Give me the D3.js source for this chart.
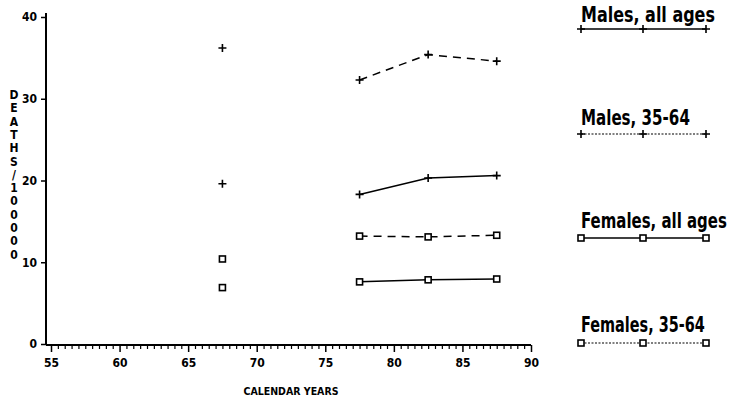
<!DOCTYPE html>
<html><head><meta charset="utf-8">
<script src="https://cdn.jsdelivr.net/npm/d3@7"></script>
<style>
html,body{margin:0;padding:0;background:#fff;}
svg{display:block;}
text{font-family:"DejaVu Sans Condensed","Liberation Sans Narrow","DejaVu Sans",sans-serif;font-weight:bold;fill:#000;}
</style></head>
<body>
<svg id="chart" width="736" height="401"></svg>
<script>
// ---- data ----
const years = [67.5, 72.5, 77.5, 82.5, 87.5];
const malesAll = [19.6, null, 18.3, 20.3, 20.6];
const males3564 = [36.2, null, 32.3, 35.4, 34.6];
const femalesAll = [6.9, null, 7.6, 7.85, 7.95];
const females3564 = [10.4, null, 13.2, 13.1, 13.3];
const seriesNames = ["Males, all ages", "Males, 35-64", "Females, all ages", "Females, 35-64"];
const xTicks = [55, 60, 65, 70, 75, 80, 85, 90];
const yTicks = [0, 10, 20, 30, 40];
const xTitle = "CALENDAR YEARS";
const yTitle = "DEATHS/100000";

const series = [
  {name: seriesNames[0], values: malesAll, marker: "plus", chartDash: null, legendDash: null},
  {name: seriesNames[1], values: males3564, marker: "plus", chartDash: "8,6", legendDash: "2,1.5"},
  {name: seriesNames[2], values: femalesAll, marker: "square", chartDash: null, legendDash: null},
  {name: seriesNames[3], values: females3564, marker: "square", chartDash: "8,6", legendDash: "2,1.5"}
];

const svg = d3.select("#chart");
const x = d3.scaleLinear().domain([55, 90]).range([51, 531]);
const y = d3.scaleLinear().domain([0, 40]).range([344, 17]);
const axisX0 = 46;

// axis lines
svg.append("line").attr("x1", axisX0).attr("x2", axisX0).attr("y1", 13).attr("y2", y(0))
  .attr("stroke", "#000").attr("stroke-width", 2);
svg.append("line").attr("x1", axisX0).attr("x2", x(90)).attr("y1", y(0)+1).attr("y2", y(0)+1)
  .attr("stroke", "#000").attr("stroke-width", 2);

// x minor ticks
const minor = d3.range(55, 90.01, 0.5).filter(v => v % 5 !== 0);
const gxm = svg.append("g").attr("transform", `translate(0,${y(0)+1})`)
  .call(d3.axisBottom(x).tickValues(minor).tickSize(4).tickFormat(""));
gxm.select(".domain").remove();
gxm.selectAll("line").attr("stroke-width", 1.2);
// x major ticks
const gx = svg.append("g").attr("transform", `translate(0,${y(0)+1})`)
  .call(d3.axisBottom(x).tickValues(xTicks).tickSize(7).tickPadding(6).tickFormat(d3.format("d")));
gx.select(".domain").remove();
gx.selectAll("line").attr("stroke-width", 1.5);
gx.selectAll("text").attr("font-size", 12).attr("font-family", null).attr("fill", "#000");

// y ticks
const gy = svg.append("g").attr("transform", `translate(${axisX0},0)`)
  .call(d3.axisLeft(y).tickValues(yTicks).tickSize(5).tickPadding(4).tickFormat(d3.format("d")));
gy.select(".domain").remove();
gy.selectAll("line").attr("stroke-width", 1.5);
gy.selectAll("text").attr("font-size", 12).attr("font-family", null).attr("fill", "#000");

// axis titles
svg.append("text").attr("x", 291).attr("y", 395).attr("text-anchor", "middle")
  .attr("font-size", 10.5).attr("font-family", "Liberation Sans, Arial, sans-serif").text(xTitle);
const yt = svg.append("text").attr("font-size", 12).attr("text-anchor", "middle");
yTitle.split("").forEach((c, i) => {
  yt.append("tspan").attr("x", 14).attr("y", 99 + i * 13.3).text(c);
});

// markers
function drawMarker(g, type, cx, cy) {
  if (type === "plus") {
    g.append("path").attr("d", `M${cx-4},${cy}H${cx+4}M${cx},${cy-4}V${cy+4}`)
      .attr("stroke", "#000").attr("stroke-width", 1.6).attr("fill", "none");
  } else {
    g.append("rect").attr("x", cx-3).attr("y", cy-3).attr("width", 6).attr("height", 6)
      .attr("stroke", "#000").attr("stroke-width", 1.6).attr("fill", "#fff");
  }
}

// series
const line = d3.line().defined(d => d.v !== null).x(d => x(d.yr)).y(d => y(d.v));
series.forEach(s => {
  const pts = years.map((yr, i) => ({yr, v: s.values[i]}));
  const g = svg.append("g");
  g.append("path").datum(pts).attr("d", line).attr("fill", "none").attr("stroke", "#000")
    .attr("stroke-width", 1.5).attr("stroke-dasharray", s.chartDash);
  pts.filter(d => d.v !== null).forEach(d => drawMarker(g, s.marker, x(d.yr), y(d.v)));
});

// legend
const legY = [[22, 29], [125, 134], [228, 238], [332, 343]];
const legW = [134, 109, 146, 124];
series.forEach((s, i) => {
  const g = svg.append("g");
  const t = g.append("text").attr("x", 0).attr("y", 0).attr("font-size", 16).text(s.name);
  const w = t.node().getComputedTextLength();
  t.attr("transform", `translate(581,${legY[i][0]}) scale(${legW[i] / w},1.35)`);
  const ly = legY[i][1];
  g.append("line").attr("x1", 581).attr("x2", 706).attr("y1", ly).attr("y2", ly)
    .attr("stroke", "#000").attr("stroke-width", s.legendDash ? 1.2 : 1.6)
    .attr("stroke-dasharray", s.legendDash);
  [581, 643, 706].forEach(cx => drawMarker(g, s.marker, cx, ly));
});
</script>
</body></html>
